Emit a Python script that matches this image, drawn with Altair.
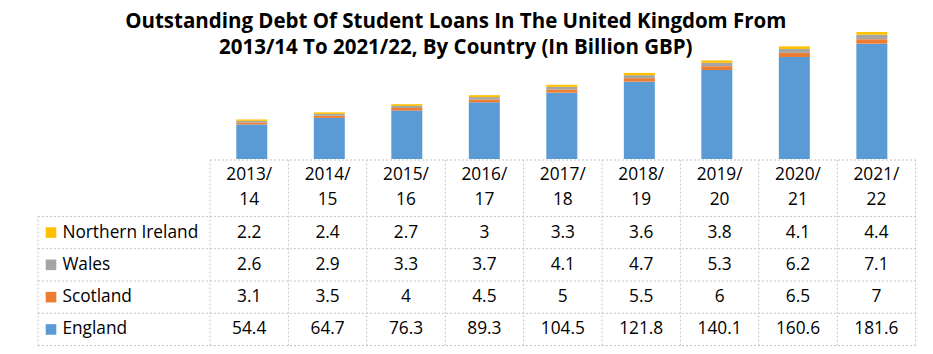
import altair as alt
import pandas as pd

years = ["2013/14", "2014/15", "2015/16", "2016/17", "2017/18",
         "2018/19", "2019/20", "2020/21", "2021/22"]
countries = ["England", "Scotland", "Wales", "Northern Ireland"]
england = [54.4, 64.7, 76.3, 89.3, 104.5, 121.8, 140.1, 160.6, 181.6]
scotland = [3.1, 3.5, 4, 4.5, 5, 5.5, 6, 6.5, 7]
wales = [2.6, 2.9, 3.3, 3.7, 4.1, 4.7, 5.3, 6.2, 7.1]
northern_ireland = [2.2, 2.4, 2.7, 3, 3.3, 3.6, 3.8, 4.1, 4.4]
colors = ["#5B9BD5", "#ED7D31", "#A5A5A5", "#FFC000"]
title_lines = ["Outstanding Debt Of Student Loans In The United Kingdom From",
               "2013/14 To 2021/22, By Country (In Billion GBP)"]

series = [england, scotland, wales, northern_ireland]

# layout constants
COL_PX = 78.4
ROW_PX = 32.3
N = len(years)
R = len(countries)
LABEL_START = -172 / COL_PX
HEADER_ROWS = 56.4 / ROW_PX
TABLE_TOP = R + HEADER_ROWS
TABLE_H = ROW_PX * TABLE_TOP
W = COL_PX * (N - LABEL_START)
BARS_H = 151
PX_PER_UNIT = 0.635
FONT = "Open Sans"
FS = 17.3
GRID = "#c4c4c4"

rows = []
for ci, (c, vals) in enumerate(zip(countries, series)):
    for yi, (yr, v) in enumerate(zip(years, vals)):
        rows.append(dict(year=yr, idx=yi, country=c, order=ci, value=v,
                         label=f"{v:g}"))
df = pd.DataFrame(rows)

head = pd.DataFrame({"year": years, "idx": list(range(N)),
                     "text": [y.replace("/", "/\n") for y in years]})
labels = pd.DataFrame({"country": countries, "order": list(range(R))})

# grid lines of the data table
lines = []
lines.append(dict(x=0, x2=N, y=TABLE_TOP, y2=TABLE_TOP))
for r in range(R + 1):
    lines.append(dict(x=LABEL_START, x2=N, y=r, y2=r))
lines.append(dict(x=LABEL_START, x2=LABEL_START, y=0, y2=R))
for c in range(N + 1):
    lines.append(dict(x=c, x2=c, y=0, y2=TABLE_TOP))
lines = pd.DataFrame(lines)

xscale = alt.Scale(domain=[LABEL_START, N], nice=False, zero=False)
cscale = alt.Scale(domain=countries, range=colors)

bars = alt.Chart(df).transform_calculate(
    xc="datum.idx + 0.5"
).mark_bar(size=31).encode(
    x=alt.X("xc:Q", scale=xscale, axis=None),
    y=alt.Y("value:Q", stack="zero",
            scale=alt.Scale(domain=[0, BARS_H / PX_PER_UNIT], nice=False),
            axis=None),
    color=alt.Color("country:N", scale=cscale, legend=None),
    order=alt.Order("order:Q", sort="ascending"),
).properties(
    width=W, height=BARS_H,
    title=alt.TitleParams(text=title_lines, font=FONT, fontSize=20.5,
                          fontWeight="bold", color="black", lineHeight=27,
                          anchor="middle", dx=-21, offset=-51),
)

yscale = alt.Scale(domain=[0, TABLE_TOP], nice=False, zero=False)
base_t = alt.Chart(df)

grid = alt.Chart(lines).mark_rule(color=GRID, strokeDash=[2, 2],
                                  strokeWidth=1).encode(
    x=alt.X("x:Q", scale=xscale, axis=None),
    x2="x2:Q",
    y=alt.Y("y:Q", scale=yscale, axis=None),
    y2="y2:Q",
)

header = alt.Chart(head).transform_calculate(
    xc="datum.idx + 0.5", yc=f"{R} + {HEADER_ROWS} / 2"
).mark_text(font=FONT, fontSize=FS, color="black", lineBreak="\n",
            lineHeight=24.4, baseline="middle", dy=-13).encode(
    x=alt.X("xc:Q", scale=xscale, axis=None),
    y=alt.Y("yc:Q", scale=yscale, axis=None),
    text="text:N",
)

values = base_t.transform_calculate(
    xc="datum.idx + 0.5", yc="datum.order + 0.5"
).mark_text(font=FONT, fontSize=FS, color="black", baseline="middle").encode(
    x=alt.X("xc:Q", scale=xscale, axis=None),
    y=alt.Y("yc:Q", scale=yscale, axis=None),
    text="label:N",
)

squares = alt.Chart(labels).transform_calculate(
    xs=f"{LABEL_START} + 13 / {COL_PX}", yc="datum.order + 0.5"
).mark_square(size=112, opacity=1, filled=True).encode(
    x=alt.X("xs:Q", scale=xscale, axis=None),
    y=alt.Y("yc:Q", scale=yscale, axis=None),
    color=alt.Color("country:N", scale=cscale, legend=None),
)

names = alt.Chart(labels).transform_calculate(
    xs=f"{LABEL_START} + 24.4 / {COL_PX}", yc="datum.order + 0.5"
).mark_text(font=FONT, fontSize=FS, color="black", align="left",
            baseline="middle").encode(
    x=alt.X("xs:Q", scale=xscale, axis=None),
    y=alt.Y("yc:Q", scale=yscale, axis=None),
    text="country:N",
)

table = alt.layer(grid, header, values, squares, names).properties(
    width=W, height=TABLE_H)

chart = alt.vconcat(bars, table, spacing=0).properties(
    padding={"left": 37, "right": 0, "top": 8, "bottom": 0}
).configure(font=FONT).configure_view(stroke="transparent", strokeWidth=0)

chart.save("out.html", embed_options={"renderer": "svg", "actions": False})
